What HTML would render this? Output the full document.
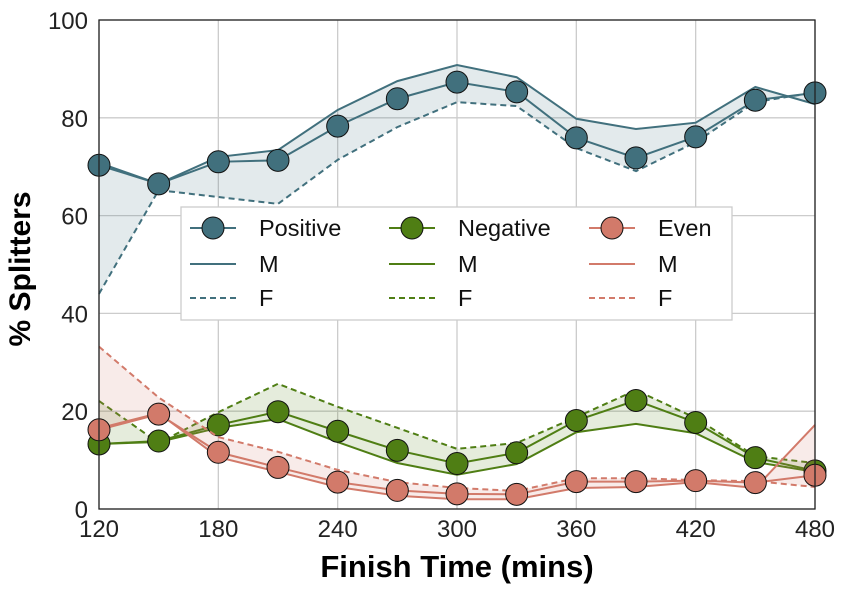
<!DOCTYPE html>
<html><head><meta charset="utf-8"><style>
body{margin:0;background:#fff}
svg{display:block;font-family:"Liberation Sans",Arial,sans-serif}
</style></head><body>
<svg id="chart" width="844" height="589">
<rect x="0" y="0" width="844" height="589" fill="#fff"/>
<g id="grid"></g>
<g id="series"></g>
<rect x="99" y="20" width="716" height="489" fill="none" stroke="#222" stroke-width="1.3"/>
<g id="ticks"></g>
<text x="457" y="577" font-size="31" font-weight="bold" text-anchor="middle">Finish Time (mins)</text>
<text transform="translate(30,269) rotate(-90)" font-size="30" font-weight="bold" text-anchor="middle">% Splitters</text>
<g id="legend"></g>
</svg>
<script>
const xTicks=[120,180,240,300,360,420,480];
const yTicks=[0,20,40,60,80,100];
const times=[120,150,180,210,240,270,300,330,360,390,420,450,480];
const posAll=[70.3,66.5,71,71.3,78.3,83.9,87.3,85.3,75.9,71.8,76.1,83.6,85.1];
const posM=[70.8,66.5,72,73.4,81.6,87.5,90.8,88.3,79.8,77.7,79,86.3,82.8];
const posF=[44,65.2,63.8,62.4,71.4,78.1,83.2,82.4,73.8,69.1,75,83.2,85.2];
const negAll=[13.3,13.9,17.2,19.9,15.9,12,9.3,11.5,18.1,22.2,17.7,10.5,7.8];
const negM=[13.3,13.7,16.6,18.4,13.7,9.4,7,9.2,15.7,17.4,15.5,9.6,7.6];
const negF=[22.1,13.5,19.8,25.6,20.9,16.6,12.3,13.5,18.8,24.3,18.6,10.8,9.4];
const evAll=[16.2,19.4,11.6,8.5,5.5,3.8,3.1,3.0,5.6,5.6,5.8,5.4,6.9];
const evM=[16.5,19.6,10.6,7.6,4.5,2.7,2.0,2.0,4.3,4.5,5.5,4.3,17.2];
const evF=[33.2,22.8,14.7,11.7,8,5.5,4.3,3.7,6.3,6.3,5.9,5.7,4.5];
const NS='http://www.w3.org/2000/svg';
const X=v=>99+(v-120)/360*716;
const Y=v=>509-v*4.89;
function mk(tag,attrs,parent){const e=document.createElementNS(NS,tag);for(const k in attrs)e.setAttribute(k,attrs[k]);parent.appendChild(e);return e;}
const grid=document.getElementById('grid'),ticks=document.getElementById('ticks'),ser=document.getElementById('series'),leg=document.getElementById('legend');
xTicks.forEach(t=>{
 const l=mk('line',{x1:X(t),x2:X(t),y1:20,y2:509,stroke:'#ccc','stroke-width':1.3},grid);
 
 
 const tx=mk('text',{x:X(t),y:537,'font-size':24,'text-anchor':'middle',fill:'#222'},ticks);tx.textContent=t;
 
 
});
yTicks.forEach(t=>{
 const l=mk('line',{x1:99,x2:815,y1:Y(t),y2:Y(t),stroke:'#ccc','stroke-width':1.3},grid);
 
 
 const tx=mk('text',{x:88,y:Y(t)+9,'font-size':24,'text-anchor':'end',fill:'#222'},ticks);tx.textContent=t;
 
 
});
function pts(a){return a.map((v,i)=>X(times[i])+','+Y(v)).join(' ');}
function draw(name,col,all,m,f){
 const g=mk('g',{},ser);
 
 
 const fillPts=pts(m)+' '+f.map((v,i)=>X(times[i])+','+Y(v)).reverse().join(' ');
 const p=mk('polygon',{points:fillPts,fill:col,'fill-opacity':0.15,stroke:'none'},g);
 
 
 const lm=mk('polyline',{points:pts(m),fill:'none',stroke:col,'stroke-width':2},g);
 
 
 const lf=mk('polyline',{points:pts(f),fill:'none',stroke:col,'stroke-width':2,'stroke-dasharray':'6,4'},g);
 
 
 const la=mk('polyline',{points:pts(all),fill:'none',stroke:col,'stroke-width':2},g);
 
 
 all.forEach((v,i)=>{
  const c=mk('circle',{cx:X(times[i]),cy:Y(v),r:11,fill:col,stroke:'#111','stroke-width':1},g);
  
  
 });
}
draw('positive','#41707d',posAll,posM,posF);
draw('negative','#4f7e14',negAll,negM,negF);
draw('even','#d27a6a',evAll,evM,evF);
const lb=mk('rect',{x:181,y:207,width:551,height:113,fill:'#fff',stroke:'#ccc','stroke-width':1.3},leg);


[['Positive','#41707d',190],['Negative','#4f7e14',389],['Even','#d27a6a',589]].forEach(([n,c,x0])=>{
 const rows=[['',228],['M',264],['F',298]];
 rows.forEach(([lab,y],ri)=>{
  const ln=mk('line',{x1:x0,x2:x0+46,y1:y,y2:y,stroke:c,'stroke-width':2},leg);
  if(ri===2)ln.setAttribute('stroke-dasharray','6,4');
  
  
  if(ri===0){const ci=mk('circle',{cx:x0+23,cy:y,r:11,fill:c,stroke:'#111'},leg);
   
   }
  const t=mk('text',{x:x0+69,y:y+8,'font-size':23.5,fill:'#111'},leg);t.textContent=ri===0?n:lab;
  
  
 });
});
</script>
</body></html>
